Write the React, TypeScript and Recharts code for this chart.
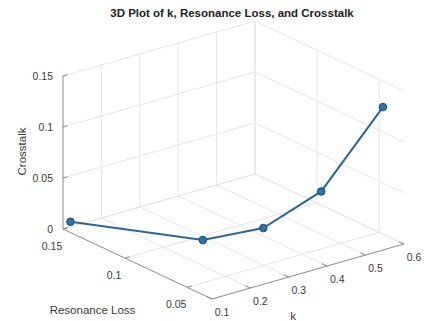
import { ScatterChart, Scatter, XAxis, YAxis } from 'recharts'

const kValues = [0.1, 0.225, 0.35, 0.475, 0.6]
const resonanceLoss = [0.144, 0.076, 0.066, 0.058, 0.047]
const crosstalk = [0.0105, 0.018, 0.022, 0.049, 0.1245]

const kTicks = [0.1, 0.2, 0.3, 0.4, 0.5, 0.6]
const lossTicks = [0.05, 0.1, 0.15]
const crosstalkTicks = [0, 0.05, 0.1, 0.15]

const kLim = [0.1, 0.6]
const lossLim = [0.03, 0.15]
const crosstalkLim = [0, 0.15]

const W = 425
const H = 321
const FONT = '"Liberation Sans", Arial, Helvetica, sans-serif'

// camera: where the (kmin, lossmin, 0) corner lands and how far each axis reaches on screen
const ORIGIN = { x: 212, y: 299 }
const K_DIR = { x: 192, y: -55 }
const LOSS_DIR = { x: -149, y: -70 }
const Z_DIR = { x: 0, y: -153 }

type Pt = { x: number; y: number; text?: string; anchor?: string; rotate?: boolean }

const project = (k: number, loss: number, z: number): Pt => {
  const u = (k - kLim[0]) / (kLim[1] - kLim[0])
  const v = (loss - lossLim[0]) / (lossLim[1] - lossLim[0])
  const w = (z - crosstalkLim[0]) / (crosstalkLim[1] - crosstalkLim[0])
  return {
    x: ORIGIN.x + u * K_DIR.x + v * LOSS_DIR.x + w * Z_DIR.x,
    y: ORIGIN.y + u * K_DIR.y + v * LOSS_DIR.y + w * Z_DIR.y,
  }
}

const [kMin, kMax] = kLim
const [lMin, lMax] = lossLim
const [zMin, zMax] = crosstalkLim

const gridSegments: Pt[][] = [
  // floor
  ...kTicks.filter((k) => k !== kMin).map((k) => [project(k, lMin, zMin), project(k, lMax, zMin)]),
  ...lossTicks.map((l) => [project(kMin, l, zMin), project(kMax, l, zMin)]),
  // back wall at max loss
  ...kTicks.filter((k) => k !== kMin).map((k) => [project(k, lMax, zMin), project(k, lMax, zMax)]),
  ...crosstalkTicks.map((z) => [project(kMin, lMax, z), project(kMax, lMax, z)]),
  // side wall at max k
  ...lossTicks.map((l) => [project(kMax, l, zMin), project(kMax, l, zMax)]),
  ...crosstalkTicks.map((z) => [project(kMax, lMin, z), project(kMax, lMax, z)]),
]

const axisSegments: Pt[][] = [
  [project(kMin, lMax, zMin), project(kMin, lMax, zMax)],
  [project(kMin, lMin, zMin), project(kMin, lMax, zMin)],
  [project(kMin, lMin, zMin), project(kMax, lMin, zMin)],
]

const tickSegments: Pt[][] = [
  ...kTicks.map((k) => [project(k, lMin, zMin), project(k, lMin + 0.004, zMin)]),
  ...lossTicks.map((l) => [project(kMin, l, zMin), project(kMin + 0.012, l, zMin)]),
  ...crosstalkTicks.map((z) => [project(kMin, lMax, z), project(kMin + 0.012, lMax, z)]),
]

const offset = (p: Pt, dx: number, dy: number, text: string, anchor = 'middle', rotate = false): Pt => ({
  x: p.x + dx,
  y: p.y + dy,
  text,
  anchor,
  rotate,
})

const tickLabels: Pt[] = [
  ...kTicks.map((k) => offset(project(k, lMin, zMin), 10, 13, String(k))),
  ...lossTicks.map((l) => offset(project(kMin, l, zMin), -11, 17, String(l))),
  ...crosstalkTicks.map((z) => offset(project(kMin, lMax, z), -10, 0, String(z), 'end')),
]

const axisLabels: Pt[] = [
  offset(project((kMin + kMax) / 2, lMin, zMin), -15, 44, 'k'),
  offset(project(kMin, (lMin + lMax) / 2, zMin), -45, 46, 'Resonance Loss'),
  offset(project(kMin, lMax, (zMin + zMax) / 2), -41, -1, 'Crosstalk', 'middle', true),
]

const seriesPoints = kValues.map((k, i) => project(k, resonanceLoss[i], crosstalk[i]))

const Nothing = () => <g />

const Marker = (props: any) => (
  <circle cx={props.cx} cy={props.cy} r={3.8} fill="#2f72a6" stroke="#1c4d73" strokeWidth={1} />
)

const makeText = (size: number) => (props: any) => {
  const { cx, cy, payload } = props
  return (
    <text
      x={cx}
      y={cy}
      textAnchor={payload.anchor}
      dominantBaseline="central"
      fontSize={size}
      fontFamily={FONT}
      fill="#3a3a3a"
      transform={payload.rotate ? `rotate(-90 ${cx} ${cy})` : undefined}
    >
      {payload.text}
    </text>
  )
}

export default function App() {
  return (
    <div style={{ position: 'absolute', left: 0, top: 0, width: W, height: H, background: '#fff' }}>
      <div
        style={{
          position: 'absolute',
          left: 100,
          width: 264,
          top: 7,
          textAlign: 'center',
          fontFamily: FONT,
          fontWeight: 'bold',
          fontSize: 11.5,
          color: '#222',
        }}
      >
        3D Plot of k, Resonance Loss, and Crosstalk
      </div>
      <ScatterChart width={W} height={H} margin={{ top: 0, right: 0, bottom: 0, left: 0 }}>
        <XAxis type="number" dataKey="x" domain={[0, W]} hide />
        <YAxis type="number" dataKey="y" domain={[0, H]} reversed hide />
        {gridSegments.map((seg, i) => (
          <Scatter
            key={`g${i}`}
            data={seg}
            line={{ stroke: '#e6e6e6', strokeWidth: 1 }}
            shape={Nothing}
            isAnimationActive={false}
          />
        ))}
        {axisSegments.map((seg, i) => (
          <Scatter
            key={`a${i}`}
            data={seg}
            line={{ stroke: '#8a8a8a', strokeWidth: 1 }}
            shape={Nothing}
            isAnimationActive={false}
          />
        ))}
        {tickSegments.map((seg, i) => (
          <Scatter
            key={`t${i}`}
            data={seg}
            line={{ stroke: '#8a8a8a', strokeWidth: 1 }}
            shape={Nothing}
            isAnimationActive={false}
          />
        ))}
        <Scatter data={tickLabels} shape={makeText(10.5)} isAnimationActive={false} />
        <Scatter data={axisLabels} shape={makeText(11.5)} isAnimationActive={false} />
        <Scatter
          data={seriesPoints}
          line={{ stroke: '#2c6897', strokeWidth: 2 }}
          shape={Marker}
          isAnimationActive={false}
        />
      </ScatterChart>
    </div>
  )
}
